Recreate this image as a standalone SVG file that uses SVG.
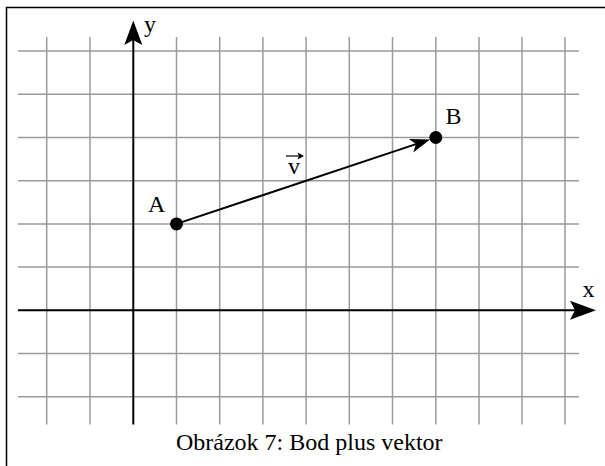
<svg xmlns="http://www.w3.org/2000/svg" width="605" height="466" viewBox="0 0 605 466">
<style>
.grid line{stroke:#9a9a9a;stroke-width:1.5}
.axis{stroke:#000;stroke-width:2;fill:none}
text{font-family:'Liberation Serif','Times New Roman',Times,serif;font-size:24px;fill:#000}
.head{fill:#000;stroke:none}
.pt{fill:#000}
</style>
<rect x="6.5" y="7.5" width="600" height="460" fill="#fff" stroke="#000" stroke-width="1.5"/>
<g id="grid" class="grid">
<line x1="46.7" y1="37" x2="46.7" y2="424.5"/>
<line x1="90" y1="37" x2="90" y2="424.5"/>
<line x1="176.5" y1="37" x2="176.5" y2="424.5"/>
<line x1="219.7" y1="37" x2="219.7" y2="424.5"/>
<line x1="262.9" y1="37" x2="262.9" y2="424.5"/>
<line x1="306.1" y1="37" x2="306.1" y2="424.5"/>
<line x1="349.3" y1="37" x2="349.3" y2="424.5"/>
<line x1="392.5" y1="37" x2="392.5" y2="424.5"/>
<line x1="435.8" y1="37" x2="435.8" y2="424.5"/>
<line x1="479" y1="37" x2="479" y2="424.5"/>
<line x1="522" y1="37" x2="522" y2="424.5"/>
<line x1="565" y1="37" x2="565" y2="424.5"/>
<line x1="18" y1="51" x2="579" y2="51"/>
<line x1="18" y1="94.3" x2="579" y2="94.3"/>
<line x1="18" y1="137.5" x2="579" y2="137.5"/>
<line x1="18" y1="180.7" x2="579" y2="180.7"/>
<line x1="18" y1="223.9" x2="579" y2="223.9"/>
<line x1="18" y1="267.1" x2="579" y2="267.1"/>
<line x1="18" y1="353.5" x2="579" y2="353.5"/>
<line x1="18" y1="396.7" x2="579" y2="396.7"/>
</g>
<g id="axes">
<line class="axis" x1="18" y1="310.3" x2="576" y2="310.3"/>
<path class="head" d="M596,310.3 L570,319.8 L575,310.3 L570,300.8 Z"/>
<line class="axis" x1="133.3" y1="424.5" x2="133.3" y2="40"/>
<path class="head" d="M133.3,20.5 L142.3,45 L133.3,40 L124.3,45 Z"/>
<text font-family="Liberation Serif, serif" x="582.5" y="297">x</text>
<text font-family="Liberation Serif, serif" x="144" y="32">y</text>
</g>
<g id="connectors">
<line class="axis" x1="176.5" y1="223.9" x2="416" y2="144.1"/>
<path class="head" d="M430.1,139.4 L413.3,152.4 L415.9,144.1 L408.9,139.1 Z"/>
<g id="label-v">
<text font-family="Liberation Serif, serif" x="288" y="173.5">v</text>
<line x1="286" y1="156" x2="300" y2="156" stroke="#000" stroke-width="1.2"/>
<path class="head" d="M304,156 L297.5,152.5 L299,156 L297.5,159.5 Z"/>
</g>
</g>
<g id="node-A">
<circle class="pt" cx="176.5" cy="223.9" r="6.5"/>
<text font-family="Liberation Serif, serif" x="148" y="212">A</text>
</g>
<g id="node-B">
<circle class="pt" cx="435.8" cy="137.5" r="6.5"/>
<text font-family="Liberation Serif, serif" x="445.5" y="124">B</text>
</g>
<text id="caption" font-family="Liberation Serif, serif" x="309.3" y="450" text-anchor="middle">Obrázok 7: Bod plus vektor</text>
</svg>
